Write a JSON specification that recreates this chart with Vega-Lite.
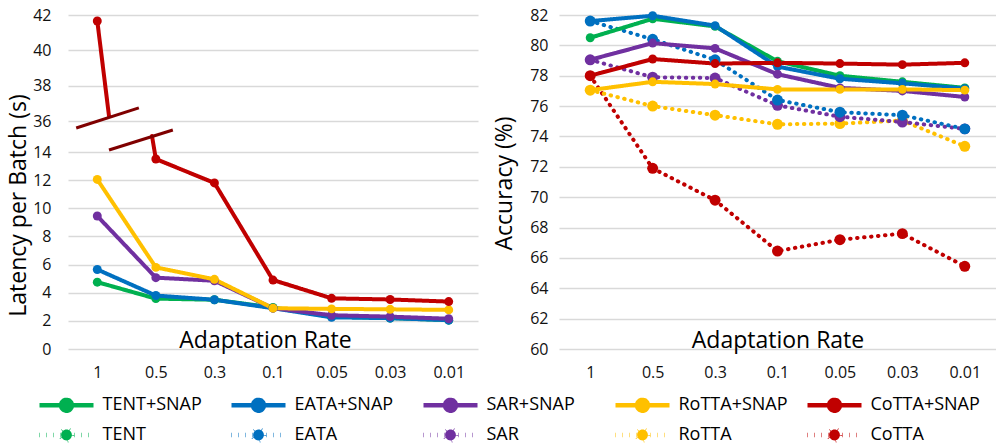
{
  "$schema": "https://vega.github.io/schema/vega-lite/v6.json",
  "padding": {"left": 7, "top": 7, "right": 0, "bottom": 0},
  "spacing": 15,
  "datasets": {
    "latency": [
      {"rate": "1", "series": "TENT+SNAP", "value": 4.75},
      {"rate": "0.5", "series": "TENT+SNAP", "value": 3.58},
      {"rate": "0.3", "series": "TENT+SNAP", "value": 3.5},
      {"rate": "0.1", "series": "TENT+SNAP", "value": 2.95},
      {"rate": "0.05", "series": "TENT+SNAP", "value": 2.3},
      {"rate": "0.03", "series": "TENT+SNAP", "value": 2.2},
      {"rate": "0.01", "series": "TENT+SNAP", "value": 2.05},
      {"rate": "1", "series": "EATA+SNAP", "value": 5.65},
      {"rate": "0.5", "series": "EATA+SNAP", "value": 3.8},
      {"rate": "0.3", "series": "EATA+SNAP", "value": 3.5},
      {"rate": "0.1", "series": "EATA+SNAP", "value": 2.9},
      {"rate": "0.05", "series": "EATA+SNAP", "value": 2.25},
      {"rate": "0.03", "series": "EATA+SNAP", "value": 2.19},
      {"rate": "0.01", "series": "EATA+SNAP", "value": 2.05},
      {"rate": "1", "series": "SAR+SNAP", "value": 9.45},
      {"rate": "0.5", "series": "SAR+SNAP", "value": 5.07},
      {"rate": "0.3", "series": "SAR+SNAP", "value": 4.85},
      {"rate": "0.1", "series": "SAR+SNAP", "value": 2.9},
      {"rate": "0.05", "series": "SAR+SNAP", "value": 2.4},
      {"rate": "0.03", "series": "SAR+SNAP", "value": 2.3},
      {"rate": "0.01", "series": "SAR+SNAP", "value": 2.15},
      {"rate": "1", "series": "RoTTA+SNAP", "value": 12.05},
      {"rate": "0.5", "series": "RoTTA+SNAP", "value": 5.8},
      {"rate": "0.3", "series": "RoTTA+SNAP", "value": 4.95},
      {"rate": "0.1", "series": "RoTTA+SNAP", "value": 2.9},
      {"rate": "0.05", "series": "RoTTA+SNAP", "value": 2.85},
      {"rate": "0.03", "series": "RoTTA+SNAP", "value": 2.82},
      {"rate": "0.01", "series": "RoTTA+SNAP", "value": 2.78},
      {"rate": "1", "series": "CoTTA+SNAP", "value": 41.66},
      {"rate": "0.5", "series": "CoTTA+SNAP", "value": 13.5},
      {"rate": "0.3", "series": "CoTTA+SNAP", "value": 11.8},
      {"rate": "0.1", "series": "CoTTA+SNAP", "value": 4.9},
      {"rate": "0.05", "series": "CoTTA+SNAP", "value": 3.6},
      {"rate": "0.03", "series": "CoTTA+SNAP", "value": 3.52},
      {"rate": "0.01", "series": "CoTTA+SNAP", "value": 3.37}
    ],
    "axisBreak": [
      {"part": "upper", "bx": 0.14, "value": 31.0},
      {"part": "upper", "bx": 1.21, "value": 36.74},
      {"part": "lower", "bx": 0.7, "value": 15.42},
      {"part": "lower", "bx": 1.79, "value": 29.6}
    ],
    "connector": [
      {"part": "top", "bx": 0.5, "value": 41.66},
      {"part": "top", "bx": 0.7, "value": 36.28},
      {"part": "bottom", "bx": 1.434, "value": 25.35},
      {"part": "bottom", "bx": 1.5, "value": 13.5}
    ],
    "accuracy": [
      {"rate": "1", "series": "CoTTA", "value": 78.0},
      {"rate": "0.5", "series": "CoTTA", "value": 71.9},
      {"rate": "0.3", "series": "CoTTA", "value": 69.8},
      {"rate": "0.1", "series": "CoTTA", "value": 66.45},
      {"rate": "0.05", "series": "CoTTA", "value": 67.2},
      {"rate": "0.03", "series": "CoTTA", "value": 67.6},
      {"rate": "0.01", "series": "CoTTA", "value": 65.45},
      {"rate": "1", "series": "RoTTA", "value": 77.05},
      {"rate": "0.5", "series": "RoTTA", "value": 76.0},
      {"rate": "0.3", "series": "RoTTA", "value": 75.4},
      {"rate": "0.1", "series": "RoTTA", "value": 74.8},
      {"rate": "0.05", "series": "RoTTA", "value": 74.85},
      {"rate": "0.03", "series": "RoTTA", "value": 75.05},
      {"rate": "0.01", "series": "RoTTA", "value": 73.35},
      {"rate": "1", "series": "SAR", "value": 79.05},
      {"rate": "0.5", "series": "SAR", "value": 77.9},
      {"rate": "0.3", "series": "SAR", "value": 77.85},
      {"rate": "0.1", "series": "SAR", "value": 76.05},
      {"rate": "0.05", "series": "SAR", "value": 75.3},
      {"rate": "0.03", "series": "SAR", "value": 74.95},
      {"rate": "0.01", "series": "SAR", "value": 74.5},
      {"rate": "1", "series": "EATA", "value": 81.6},
      {"rate": "0.5", "series": "EATA", "value": 80.4},
      {"rate": "0.3", "series": "EATA", "value": 79.05},
      {"rate": "0.1", "series": "EATA", "value": 76.4},
      {"rate": "0.05", "series": "EATA", "value": 75.6},
      {"rate": "0.03", "series": "EATA", "value": 75.4},
      {"rate": "0.01", "series": "EATA", "value": 74.5},
      {"rate": "1", "series": "TENT+SNAP", "value": 80.5},
      {"rate": "0.5", "series": "TENT+SNAP", "value": 81.75},
      {"rate": "0.3", "series": "TENT+SNAP", "value": 81.25},
      {"rate": "0.1", "series": "TENT+SNAP", "value": 78.95},
      {"rate": "0.05", "series": "TENT+SNAP", "value": 78.0},
      {"rate": "0.03", "series": "TENT+SNAP", "value": 77.6},
      {"rate": "0.01", "series": "TENT+SNAP", "value": 77.2},
      {"rate": "1", "series": "EATA+SNAP", "value": 81.6},
      {"rate": "0.5", "series": "EATA+SNAP", "value": 81.95},
      {"rate": "0.3", "series": "EATA+SNAP", "value": 81.3},
      {"rate": "0.1", "series": "EATA+SNAP", "value": 78.6},
      {"rate": "0.05", "series": "EATA+SNAP", "value": 77.8},
      {"rate": "0.03", "series": "EATA+SNAP", "value": 77.5},
      {"rate": "0.01", "series": "EATA+SNAP", "value": 77.15},
      {"rate": "1", "series": "SAR+SNAP", "value": 79.05},
      {"rate": "0.5", "series": "SAR+SNAP", "value": 80.15},
      {"rate": "0.3", "series": "SAR+SNAP", "value": 79.8},
      {"rate": "0.1", "series": "SAR+SNAP", "value": 78.1},
      {"rate": "0.05", "series": "SAR+SNAP", "value": 77.2},
      {"rate": "0.03", "series": "SAR+SNAP", "value": 77.0},
      {"rate": "0.01", "series": "SAR+SNAP", "value": 76.6},
      {"rate": "1", "series": "RoTTA+SNAP", "value": 77.05},
      {"rate": "0.5", "series": "RoTTA+SNAP", "value": 77.6},
      {"rate": "0.3", "series": "RoTTA+SNAP", "value": 77.45},
      {"rate": "0.1", "series": "RoTTA+SNAP", "value": 77.1},
      {"rate": "0.05", "series": "RoTTA+SNAP", "value": 77.1},
      {"rate": "0.03", "series": "RoTTA+SNAP", "value": 77.1},
      {"rate": "0.01", "series": "RoTTA+SNAP", "value": 77.05},
      {"rate": "1", "series": "CoTTA+SNAP", "value": 78.0},
      {"rate": "0.5", "series": "CoTTA+SNAP", "value": 79.1},
      {"rate": "0.3", "series": "CoTTA+SNAP", "value": 78.8},
      {"rate": "0.1", "series": "CoTTA+SNAP", "value": 78.85},
      {"rate": "0.05", "series": "CoTTA+SNAP", "value": 78.8},
      {"rate": "0.03", "series": "CoTTA+SNAP", "value": 78.73},
      {"rate": "0.01", "series": "CoTTA+SNAP", "value": 78.85}
    ]
  },
  "config": {
    "font": "Open Sans",
    "view": {"stroke": null},
    "axis": {
      "domain": false,
      "ticks": false,
      "labelOverlap": false,
      "gridColor": "#D9D9D9",
      "gridWidth": 1.5,
      "labelFont": "Open Sans",
      "labelFontSize": 16,
      "labelColor": "#111111",
      "titleFont": "Open Sans",
      "titleFontSize": 23,
      "titleFontWeight": "normal",
      "titleColor": "#000000"
    },
    "axisX": {"grid": false, "labelAngle": 0, "labelPadding": 15},
    "legend": {
      "orient": "none",
      "legendX": -29,
      "legendY": 381,
      "direction": "horizontal",
      "columns": 5,
      "symbolType": "M-5,0L5,0M1,0A1,1,0,1,1,-1,0A1,1,0,1,1,1,0Z",
      "symbolSize": 116.64,
      "symbolStrokeWidth": 4.5,
      "symbolOffset": 18.5,
      "labelOffset": 27,
      "labelFont": "Open Sans",
      "labelFontSize": 18,
      "labelColor": "#000000",
      "labelLimit": 300,
      "columnPadding": 10,
      "rowPadding": 0,
      "gridAlign": "all",
      "padding": 0
    }
  },
  "resolve": {
    "scale": {"color": "shared", "strokeDash": "shared"},
    "legend": {"color": "shared", "strokeDash": "shared"}
  },
  "hconcat": [
    {
      "width": 410,
      "height": 334,
      "resolve": {"scale": {"x": "independent"}, "axis": {"x": "independent"}},
      "layer": [
        {
          "data": {"name": "latency"},
          "encoding": {
            "x": {
              "field": "rate", "type": "ordinal",
              "sort": ["1", "0.5", "0.3", "0.1", "0.05", "0.03", "0.01"],
              "scale": {"type": "point", "padding": 0.5},
              "axis": {"title": "Adaptation Rate", "titleY": -2, "titleX": 197, "titleBaseline": "alphabetic"}
            },
            "y": {
              "field": "value", "type": "quantitative",
              "scale": {"domain": [0, 14, 36, 42], "range": [334, 137, 106, 0], "nice": false, "zero": false},
              "axis": {"values": [0, 2, 4, 6, 8, 10, 12, 14, 36, 38, 40, 42], "tickCount": 24, "labelOverlap": false, "title": "Latency per Batch (s)", "labelPadding": 17, "titleX": -38, "titleY": 190}
            }
          },
          "layer": [
            {
              "transform": [{"filter": "!(datum.series == 'CoTTA+SNAP' && datum.rate == '1')"}],
              "mark": {"type": "line", "strokeWidth": 4, "strokeCap": "round", "strokeJoin": "round"},
              "encoding": {
                "color": {
                  "field": "series", "type": "nominal", "title": null,
                  "scale": {
                    "domain": ["TENT+SNAP", "EATA+SNAP", "SAR+SNAP", "RoTTA+SNAP", "CoTTA+SNAP", "TENT", "EATA", "SAR", "RoTTA", "CoTTA"],
                    "range": ["#00B050", "#0070C0", "#7030A0", "#FFC000", "#C00000", "#00B050", "#0070C0", "#7030A0", "#FFC000", "#C00000"]
                  },
                  "legend": {"title": null, "encode": {"symbols": {"update": {"fill": {"scale": "color", "field": "value"}, "fillOpacity": {"value": 1}}}}}
                },
                "strokeDash": {
                  "field": "series", "type": "nominal", "title": null,
                  "scale": {
                    "domain": ["TENT+SNAP", "EATA+SNAP", "SAR+SNAP", "RoTTA+SNAP", "CoTTA+SNAP", "TENT", "EATA", "SAR", "RoTTA", "CoTTA"],
                    "range": [[1, 0], [1, 0], [1, 0], [1, 0], [1, 0], [0.5, 6.5], [0.5, 6.5], [0.5, 6.5], [0.5, 6.5], [0.5, 6.5]]
                  },
                  "legend": {"title": null, "encode": {"symbols": {"update": {"fill": {"scale": "color", "field": "value"}, "fillOpacity": {"value": 1}}}}}
                }
              }
            },
            {
              "mark": {"type": "point", "filled": true, "size": 80, "opacity": 1},
              "encoding": {
                "color": {
                  "field": "series", "type": "nominal",
                  "scale": {
                    "domain": ["TENT+SNAP", "EATA+SNAP", "SAR+SNAP", "RoTTA+SNAP", "CoTTA+SNAP", "TENT", "EATA", "SAR", "RoTTA", "CoTTA"],
                    "range": ["#00B050", "#0070C0", "#7030A0", "#FFC000", "#C00000", "#00B050", "#0070C0", "#7030A0", "#FFC000", "#C00000"]
                  },
                  "legend": null
                }
              }
            }
          ]
        },
        {
          "data": {"name": "connector"},
          "mark": {"type": "line", "color": "#C00000", "strokeWidth": 4, "strokeCap": "round"},
          "encoding": {
            "x": {"field": "bx", "type": "quantitative", "scale": {"domain": [0, 7], "nice": false, "zero": false}, "axis": null},
            "y": {"field": "value", "type": "quantitative", "scale": {"domain": [0, 14, 36, 42], "range": [334, 137, 106, 0], "nice": false, "zero": false}},
            "detail": {"field": "part", "type": "nominal"}
          }
        },
        {
          "data": {"name": "axisBreak"},
          "mark": {"type": "line", "color": "#7F0000", "strokeWidth": 3},
          "encoding": {
            "x": {"field": "bx", "type": "quantitative", "scale": {"domain": [0, 7], "nice": false, "zero": false}, "axis": null},
            "y": {"field": "value", "type": "quantitative", "scale": {"domain": [0, 14, 36, 42], "range": [334, 137, 106, 0], "nice": false, "zero": false}},
            "detail": {"field": "part", "type": "nominal"}
          }
        }
      ]
    },
    {
      "width": 437,
      "height": 334,
      "data": {"name": "accuracy"},
      "encoding": {
        "x": {
          "field": "rate", "type": "ordinal",
          "sort": ["1", "0.5", "0.3", "0.1", "0.05", "0.03", "0.01"],
          "scale": {"type": "point", "padding": 0.5},
          "axis": {"title": "Adaptation Rate", "titleY": -2, "titleBaseline": "alphabetic"}
        },
        "y": {
          "field": "value", "type": "quantitative",
          "scale": {"domain": [60, 82], "nice": false, "zero": false},
          "axis": {"values": [60, 62, 64, 66, 68, 70, 72, 74, 76, 78, 80, 82], "tickCount": 24, "title": "Accuracy (%)", "labelPadding": 11, "titleX": -43, "titleY": 168}
        }
      },
      "layer": [
        {
          "mark": {"type": "line", "strokeWidth": 4, "strokeCap": "round", "strokeJoin": "round"},
          "encoding": {
            "color": {
              "field": "series", "type": "nominal", "title": null,
              "scale": {
                "domain": ["TENT+SNAP", "EATA+SNAP", "SAR+SNAP", "RoTTA+SNAP", "CoTTA+SNAP", "TENT", "EATA", "SAR", "RoTTA", "CoTTA"],
                "range": ["#00B050", "#0070C0", "#7030A0", "#FFC000", "#C00000", "#00B050", "#0070C0", "#7030A0", "#FFC000", "#C00000"]
              },
              "legend": {"title": null, "encode": {"symbols": {"update": {"fill": {"scale": "color", "field": "value"}, "fillOpacity": {"value": 1}}}}}
            },
            "strokeDash": {
              "field": "series", "type": "nominal", "title": null,
              "scale": {
                "domain": ["TENT+SNAP", "EATA+SNAP", "SAR+SNAP", "RoTTA+SNAP", "CoTTA+SNAP", "TENT", "EATA", "SAR", "RoTTA", "CoTTA"],
                "range": [[1, 0], [1, 0], [1, 0], [1, 0], [1, 0], [0.5, 6.5], [0.5, 6.5], [0.5, 6.5], [0.5, 6.5], [0.5, 6.5]]
              },
              "legend": {"title": null, "encode": {"symbols": {"update": {"fill": {"scale": "color", "field": "value"}, "fillOpacity": {"value": 1}}}}}
            }
          }
        },
        {
          "transform": [{"filter": "indexof(datum.series, '+SNAP') < 0"}],
          "mark": {"type": "point", "filled": true, "size": 120, "opacity": 1},
          "encoding": {
            "color": {
              "field": "series", "type": "nominal",
              "scale": {
                "domain": ["TENT+SNAP", "EATA+SNAP", "SAR+SNAP", "RoTTA+SNAP", "CoTTA+SNAP", "TENT", "EATA", "SAR", "RoTTA", "CoTTA"],
                "range": ["#00B050", "#0070C0", "#7030A0", "#FFC000", "#C00000", "#00B050", "#0070C0", "#7030A0", "#FFC000", "#C00000"]
              },
              "legend": null
            }
          }
        },
        {
          "transform": [{"filter": "indexof(datum.series, '+SNAP') >= 0"}],
          "mark": {"type": "point", "filled": true, "size": 80, "opacity": 1},
          "encoding": {
            "color": {
              "field": "series", "type": "nominal",
              "scale": {
                "domain": ["TENT+SNAP", "EATA+SNAP", "SAR+SNAP", "RoTTA+SNAP", "CoTTA+SNAP", "TENT", "EATA", "SAR", "RoTTA", "CoTTA"],
                "range": ["#00B050", "#0070C0", "#7030A0", "#FFC000", "#C00000", "#00B050", "#0070C0", "#7030A0", "#FFC000", "#C00000"]
              },
              "legend": null
            }
          }
        }
      ]
    }
  ]
}
